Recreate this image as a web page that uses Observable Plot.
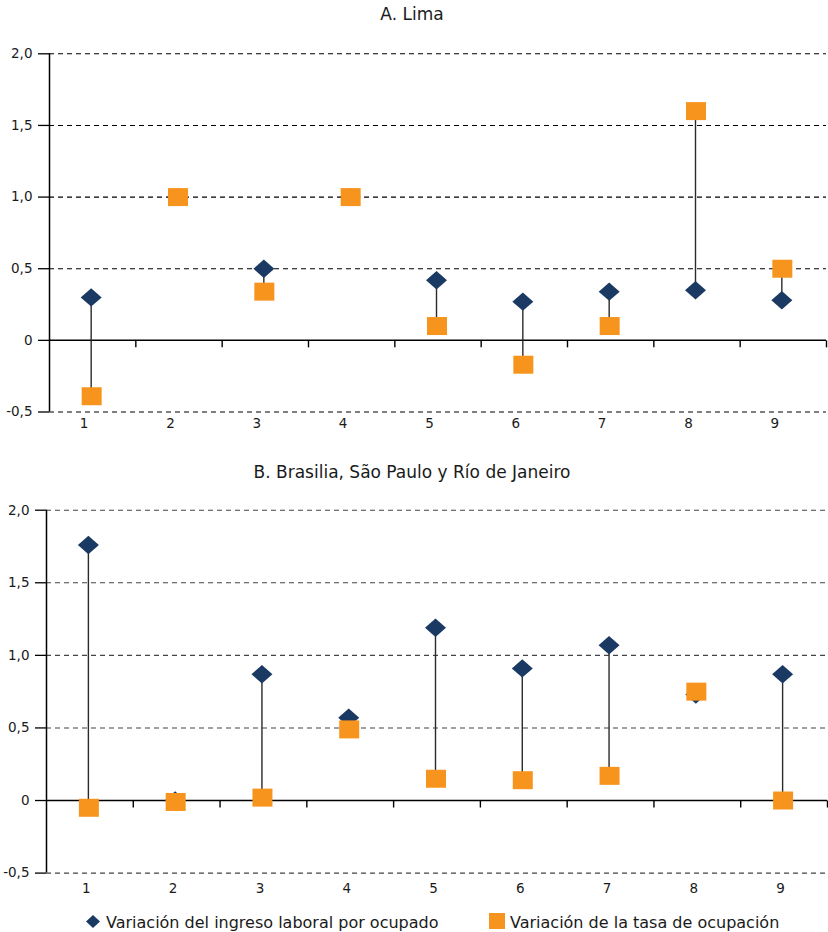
<!DOCTYPE html>
<html>
<head>
<meta charset="utf-8">
<script src="https://cdn.jsdelivr.net/npm/d3@7"></script>
<script src="https://cdn.jsdelivr.net/npm/@observablehq/plot@0.6"></script>
<style>
  body { margin: 0; background: #fff; font-family: "DejaVu Sans", sans-serif; }
  #root { position: relative; width: 828px; height: 932px; overflow: hidden; background: #fff; }
  .title { position: absolute; left: 0; width: 824px; text-align: center; font-size: 17px; line-height: 17px; color: #1a1a1a; white-space: nowrap; }
  .panel { position: absolute; left: 0; }
  .legend { position: absolute; font-size: 16px; line-height: 16px; color: #1a1a1a; white-space: nowrap; }
  .sw { position: absolute; }
</style>
</head>
<body>
<div id="root"></div>
<script>
// ---- data ----
const categories = [1, 2, 3, 4, 5, 6, 7, 8, 9];
const yTicks = [-0.5, 0, 0.5, 1.0, 1.5, 2.0];
const panelTitles = ["A. Lima", "B. Brasilia, São Paulo y Río de Janeiro"];
const seriesNames = ["Variación del ingreso laboral por ocupado", "Variación de la tasa de ocupación"];
const seriesColors = ["#1b3a63", "#f7941d"];

// A. Lima
const limaIngreso = [0.30, 1.00, 0.50, 1.00, 0.42, 0.27, 0.34, 0.35, 0.28];
const limaTasa    = [-0.39, 1.00, 0.34, 1.00, 0.10, -0.17, 0.10, 1.60, 0.50];
// B. Brasilia, São Paulo y Río de Janeiro
const brasilIngreso = [1.76, 0.00, 0.87, 0.57, 1.19, 0.91, 1.07, 0.73, 0.87];
const brasilTasa    = [-0.05, -0.01, 0.02, 0.49, 0.15, 0.14, 0.17, 0.75, 0.00];

// ---- symbols ----
const diamondSym = { draw(ctx, size) { const r = Math.sqrt(size / Math.PI); const w = r * 1.05, h = r * 0.92;
  ctx.moveTo(0, -h); ctx.lineTo(w, 0); ctx.lineTo(0, h); ctx.lineTo(-w, 0); ctx.closePath(); } };
const squareSym = { draw(ctx, size) { const r = Math.sqrt(size / Math.PI); const w = r, h = r * 0.9;
  ctx.moveTo(-w, -h); ctx.lineTo(w, -h); ctx.lineTo(w, h); ctx.lineTo(-w, h); ctx.closePath(); } };
const downTickSym = { draw(ctx, size) { const len = Math.sqrt(size / Math.PI); ctx.moveTo(0, 0); ctx.lineTo(0, len); } };

const fmt = d => d === 0 ? "0" : d3.format(".1f")(d).replace(".", ",").replace("\u2212", "-");

function panel({ingreso, tasa, height, mt, mb, ml, mr, labelDx, labelPad, gridColor, markDx}) {
  const rows = categories.map((c, i) => ({cat: c, ingreso: ingreso[i], tasa: tasa[i]}));
  const xDomain = [categories[0] - 0.5, categories[categories.length - 1] + 0.5];
  const boundaries = categories.map(c => c + 0.5);
  return Plot.plot({
    width: 828, height,
    marginTop: mt, marginBottom: mb, marginLeft: ml, marginRight: mr,
    style: {fontFamily: "DejaVu Sans, sans-serif", fontSize: "13.5px", color: "#1a1a1a", background: "transparent", overflow: "visible"},
    x: {domain: xDomain},
    y: {domain: [yTicks[0], yTicks[yTicks.length - 1]]},
    marks: [
      Plot.gridY({ticks: yTicks.filter(t => t !== 0), stroke: gridColor, strokeOpacity: 1, strokeWidth: 1.1, strokeDasharray: "5,4"}),
      Plot.axisY({ticks: yTicks, tickFormat: fmt, tickSize: 11, tickPadding: 6, label: null, stroke: "#000", strokeWidth: 1.3, fontSize: 13.5}),
      Plot.axisX({ticks: categories, tickSize: 0, tickPadding: labelPad, dx: labelDx, label: null, fontSize: 13.5}),
      Plot.ruleY([0], {stroke: "#000", strokeWidth: 1.5}),
      Plot.ruleX([xDomain[0]], {stroke: "#000", strokeWidth: 1.5}),
      Plot.dot(boundaries, {x: d => d, y: () => 0, symbol: downTickSym, r: 7, stroke: "#000", fill: "none", strokeWidth: 1.4}),
      Plot.ruleX(rows, {x: "cat", y1: "ingreso", y2: "tasa", stroke: "#2a2a2a", strokeWidth: 1.4, dx: markDx}),
      Plot.dot(rows, {x: "cat", y: "ingreso", symbol: diamondSym, r: 10, fill: seriesColors[0], stroke: "none", dx: markDx}),
      Plot.dot(rows, {x: "cat", y: "tasa", symbol: squareSym, r: 10, fill: seriesColors[1], stroke: "none", dx: markDx + 0.5})
    ]
  });
}

const root = document.getElementById("root");

function addTitle(text, top) {
  const d = document.createElement("div");
  d.className = "title"; d.style.top = top + "px"; d.textContent = text;
  root.appendChild(d);
}
function addPanel(svg, top) {
  const d = document.createElement("div");
  d.className = "panel"; d.style.top = top + "px";
  d.appendChild(svg); root.appendChild(d);
}

addTitle(panelTitles[0], 5.6);
addPanel(panel({ingreso: limaIngreso, tasa: limaTasa, height: 410, mt: 23.3, mb: 28.5, ml: 49, mr: 2,
  labelDx: -8.5, labelPad: 6.8, gridColor: "#000", markDx: -1.5}), 30);

addTitle(panelTitles[1], 463.6);
addPanel(panel({ingreso: brasilIngreso, tasa: brasilTasa, height: 415, mt: 24.7, mb: 27.4, ml: 46, mr: 1,
  labelDx: -3.5, labelPad: 10.7, gridColor: "#444", markDx: -1.5}), 485);

// legend
const ns = "http://www.w3.org/2000/svg";
function swatch(left, top, w, h, isDiamond, color) {
  const s = document.createElementNS(ns, "svg");
  s.setAttribute("width", w); s.setAttribute("height", h);
  s.setAttribute("class", "sw");
  s.style.left = left + "px"; s.style.top = top + "px";
  const p = document.createElementNS(ns, "path");
  p.setAttribute("d", isDiamond ? `M${w/2},0L${w},${h/2}L${w/2},${h}L0,${h/2}Z` : `M0,0H${w}V${h}H0Z`);
  p.setAttribute("fill", color);
  s.appendChild(p); root.appendChild(s);
}
function legendText(text, left, top) {
  const d = document.createElement("div");
  d.className = "legend"; d.style.left = left + "px"; d.style.top = top + "px"; d.textContent = text;
  root.appendChild(d);
}
swatch(86, 914.5, 14, 13, true, seriesColors[0]);
legendText(seriesNames[0], 106, 914.5);
swatch(489, 913, 16, 16, false, seriesColors[1]);
legendText(seriesNames[1], 510, 914.5);
</script>
</body>
</html>
